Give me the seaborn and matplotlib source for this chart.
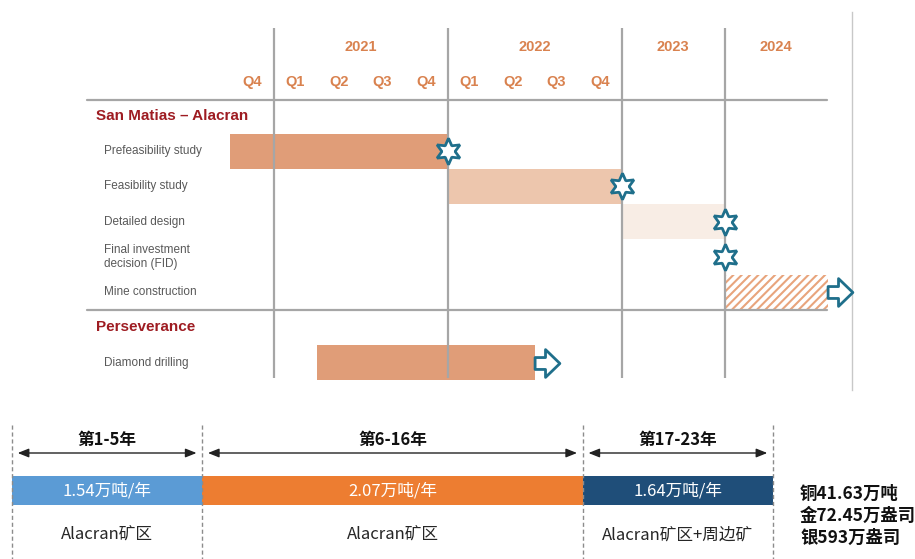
import numpy as np
import pandas as pd
import matplotlib
matplotlib.use("Agg")
import matplotlib.pyplot as plt
import matplotlib.transforms as mtransforms
from matplotlib.path import Path
import seaborn as sns

# ---- Gantt data ----
year_labels = ["2021", "2022", "2023", "2024"]
year_starts = [2021.0, 2022.0, 2023.0, 2024.0]
quarter_labels = ["Q4", "Q1", "Q2", "Q3", "Q4", "Q1", "Q2", "Q3", "Q4"]
quarter_starts = [2020.75, 2021.0, 2021.25, 2021.5, 2021.75, 2022.0, 2022.25, 2022.5, 2022.75]

rows = ["San Matias – Alacran", "Prefeasibility study", "Feasibility study",
        "Detailed design", "Final investment\ndecision (FID)", "Mine construction",
        "Perseverance", "Diamond drilling"]
sections = ["San Matias – Alacran", "Perseverance"]

tasks = ["Prefeasibility study", "Feasibility study", "Detailed design",
         "Mine construction", "Diamond drilling"]
task_start = [2020.75, 2022.0, 2023.0, 2024.0, 2021.25]
task_end = [2022.0, 2023.0, 2024.0, 2025.0, 2022.5]
task_colors = ["#E09D78", "#EDC6AD", "#F8EDE5", "#FFFFFF", "#E09D78"]
hatched_tasks = ["Mine construction"]

milestone_rows = ["Prefeasibility study", "Feasibility study", "Detailed design",
                  "Final investment\ndecision (FID)"]
milestone_time = [2022.0, 2023.0, 2024.0, 2024.0]

ongoing_rows = ["Mine construction", "Diamond drilling"]
ongoing_time = [2025.0, 2022.5]

# ---- production plan data ----
periods = ["第1-5年", "第6-16年", "第17-23年"]
capacity = [1.54, 2.07, 1.64]
sources = ["Alacran矿区", "Alacran矿区", "Alacran矿区+周边矿"]
totals = ["铜41.63万吨", "金72.45万盎司", "银593万盎司"]

# colours / styles
orange_txt = "#D9824F"
red_txt = "#9E1C22"
gray_txt = "#595959"
grid_c = "#A6A6A6"
teal = "#1F6F8B"
hatch_c = "#E8A47C"
seg_colors = ["#5B9BD5", "#ED7D31", "#1F4E79"]
seg_widths = [1, 2, 1]

sns.set_theme(style="white")
plt.rcParams["font.family"] = ["Liberation Sans", "Noto Sans CJK SC", "DejaVu Sans"]
plt.rcParams["hatch.linewidth"] = 1.5

W, H = 915, 559
fig = plt.figure(figsize=(W / 100, H / 100), dpi=100)


def px_box(x0, y0, x1, y1):
    return [x0 / W, 1 - y1 / H, (x1 - x0) / W, (y1 - y0) / H]


# ---------------- Gantt ----------------
ax = fig.add_axes(px_box(230, 12, 852, 390))

df = pd.DataFrame({"task": tasks, "start": task_start, "end": task_end})
sns.barplot(data=df, x="end", y="task", hue="task", order=rows, hue_order=tasks,
            palette=dict(zip(tasks, task_colors)), orient="h", width=0.98,
            saturation=1, errorbar=None, legend=False, linewidth=0, ax=ax)

# move bars to their start dates
for bar in ax.patches:
    name = rows[int(round(bar.get_y() + bar.get_height() / 2))]
    i = tasks.index(name)
    bar.set_x(task_start[i])
    bar.set_width(task_end[i] - task_start[i])
    if name in hatched_tasks:
        bar.set_facecolor("white")
        bar.set_hatch("////")
        bar.set_edgecolor(hatch_c)
        bar.set_linewidth(0)

# 2023/2024 columns are drawn narrower than 2021/2022
r = 103 / 174
seg_x = [2020.75, 2023.0, 2026.0]
seg_s = [0.0, 9.0, 9.0 + 12 * r]


def fwd(t):
    return np.interp(t, seg_x, seg_s)


def inv(s):
    return np.interp(s, seg_s, seg_x)


ax.set_xscale("function", functions=(fwd, inv))
ax.set_xlim(2020.75, 2025.236)
ax.set_ylim(7.78, -2.955)
ax.set_xticks([])
ax.set_yticks([])
ax.set_xlabel("")
ax.set_ylabel("")
sns.despine(ax=ax, left=True, bottom=True, top=True, right=False)
ax.spines["right"].set_color("#C8C8C8")
ax.spines["right"].set_linewidth(1.0)

ax.vlines(year_starts, -2.49, 7.45, color=grid_c, lw=1.6, zorder=3)
x_left = (87 - 230) / 622
x_right = (827 - 230) / 622
for yl in [-0.45, 5.5]:
    ax.axhline(yl, xmin=x_left, xmax=x_right, color=grid_c, lw=1.6, clip_on=False, zorder=3)

for lab, y0 in zip(year_labels, year_starts):
    ax.text(y0 + 0.5, -1.96, lab, ha="center", va="center", color=orange_txt,
            fontsize=10.5, fontweight="bold")
for lab, q0 in zip(quarter_labels, quarter_starts):
    ax.text(q0 + 0.125, -0.97, lab, ha="center", va="center", color=orange_txt,
            fontsize=10.5, fontweight="bold")

tr = mtransforms.blended_transform_factory(fig.transFigure, ax.transData)
for i, lab in enumerate(rows):
    if lab in sections:
        ax.text(96 / W, i, lab, transform=tr, ha="left", va="center", color=red_txt,
                fontsize=11, fontweight="bold")
    else:
        ax.text(104 / W, i, lab, transform=tr, ha="left", va="center", color=gray_txt,
                fontsize=8.5, linespacing=1.15)

ax.plot(milestone_time, [rows.index(m) for m in milestone_rows], ls="none",
        marker=(6, 1, 0), ms=19, mfc="white", mec=teal, mew=2, clip_on=False, zorder=5)

arrow = Path([(-12.5, -6), (-2, -6), (-2, -14), (12.5, 0), (-2, 14), (-2, 6),
              (-12.5, 6), (-12.5, -6)],
             [Path.MOVETO] + [Path.LINETO] * 6 + [Path.CLOSEPOLY])
shift = mtransforms.offset_copy(ax.transData, fig=fig, x=12.5, y=0, units="dots")
ax.plot(ongoing_time, [rows.index(o) for o in ongoing_rows], ls="none", transform=shift,
        marker=arrow, ms=20, mfc="white", mec=teal, mew=2, clip_on=False, zorder=5)

# ---------------- production plan ----------------
ax2 = fig.add_axes(px_box(12, 420, 773, 559))
ax2.set_xlim(0, 4)
ax2.set_ylim(559, 420)
ax2.axis("off")

seg_left = np.cumsum([0] + seg_widths[:-1])
edges = list(seg_left) + [seg_left[-1] + seg_widths[-1]]
ax2.barh(490.5, seg_widths, left=seg_left, height=29, color=seg_colors, linewidth=0)
ax2.vlines(edges, 425, 559, colors="#8C8C8C", linestyles=(0, (3, 2)), lw=1,
           clip_on=False, zorder=4)

cjk = ["Noto Sans CJK SC", "DejaVu Sans"]
gap = 0.03
for l, w, p, v, s in zip(seg_left, seg_widths, periods, capacity, sources):
    ax2.annotate("", xy=(l + w - gap, 453), xytext=(l + gap, 453),
                 arrowprops=dict(arrowstyle="<|-|>,head_length=0.55,head_width=0.22",
                                 color="#222222", lw=1, shrinkA=0, shrinkB=0))
    c = l + w / 2
    ax2.text(c, 440, p, ha="center", va="center", fontsize=12, fontweight="bold",
             family=cjk, color="#111111")
    ax2.text(c, 490.5, f"{v:.2f}万吨/年", ha="center", va="center", fontsize=12,
             family=cjk, color="white")
    ax2.text(c, 535, s, ha="center", va="center", fontsize=12, family=cjk,
             color="#262626")

fig.text(800 / W, 1 - 516 / H, "\n".join(totals), ha="left", va="center",
         fontsize=12.5, fontweight="bold", family=cjk, color="#111111", linespacing=1.3)

fig.savefig("out.png", dpi=100)
